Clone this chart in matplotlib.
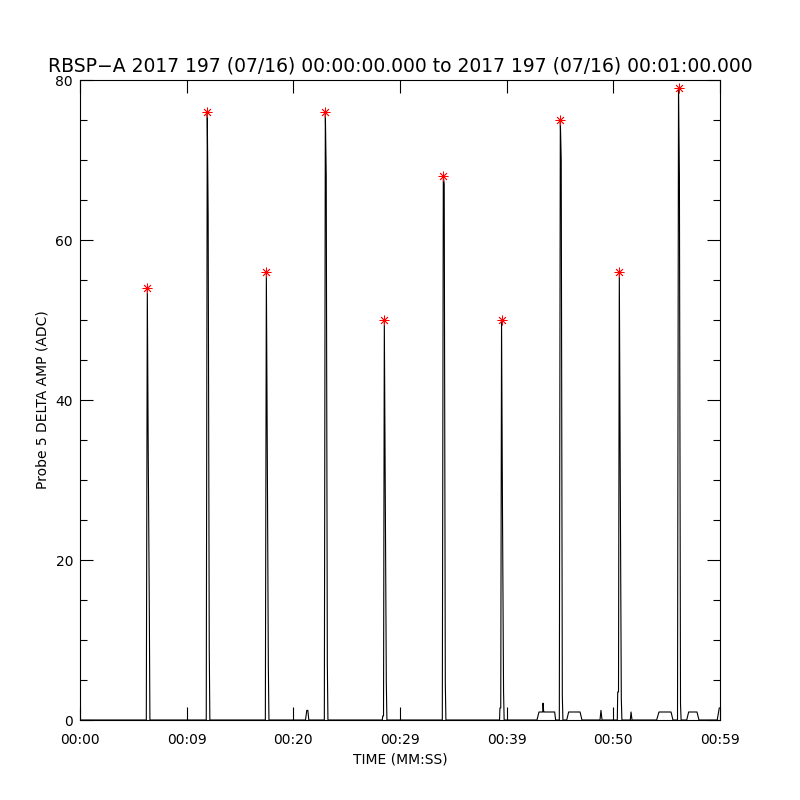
import numpy as np
import matplotlib
matplotlib.use("Agg")
import matplotlib.pyplot as plt
from matplotlib.ticker import MultipleLocator

# peaks of the probe 5 delta amplitude (seconds after 00:00:00)
spike_time = [6.31, 11.93, 17.47, 23.00, 28.53, 34.06, 39.52, 45.03, 50.56, 56.11]
spike_peak = [54, 76, 56, 76, 50, 68, 50, 75, 56, 79]
spike_mid = [34, 63, 34.5, 68, 29.5, 67, 27, 70, 31.5, 68]
spike_low = [14, 9, 6.6, 7, 4.6, 4.6, 3.6, 3, 2.7, 2]
spike_lead = [0, 0, 0, 0, 0.5, 0, 1.5, 0, 3.5, 0]

# small features near the baseline (time in s, value in ADC)
low_time = [21.14, 21.26, 21.36, 21.45,
            42.84, 43.03, 43.38, 43.41, 43.47, 43.50, 44.50, 44.59,
            45.63, 45.81, 46.88, 47.06,
            48.75, 48.84, 48.94,
            51.59, 51.66, 51.75,
            54.06, 54.28, 55.41, 55.59,
            56.88, 57.06, 57.84, 58.03,
            59.74, 59.93, 60.0]
low_val = [0, 1.2, 1.2, 0,
           0, 1, 1, 2.1, 1, 1, 1, 0,
           0, 1, 1, 0,
           0, 1.2, 0,
           0, 1, 0,
           0, 1, 1, 0,
           0, 1, 1, 0,
           0, 1.5, 1.5]

tick_pos = [0, 10, 20, 30, 40, 50, 60]
tick_lab = ["00:00", "00:09", "00:20", "00:29", "00:39", "00:50", "00:59"]

# build the trace
dt = 0.09375
pts = [(0.0, 0.0)]
for t, pk, md, lo, ld in zip(spike_time, spike_peak, spike_mid, spike_low, spike_lead):
    if ld > 0:
        pts.append((t - 2.0 * dt, 0))
        pts.append((t - 1.6 * dt, ld))
        pts.append((t - 0.8 * dt, ld))
    else:
        pts.append((t - dt, 0))
    pts += [(t, pk), (t + 0.9 * dt, md), (t + 2.0 * dt, lo), (t + 2.6 * dt, 0)]
pts += list(zip(low_time, low_val))
pts.sort()
tt = [p[0] for p in pts]
vv = [p[1] for p in pts]

fig = plt.figure(figsize=(8, 8), dpi=100)
ax = fig.add_axes([0.1, 0.1, 0.8, 0.8])
ax.plot(tt, vv, color="black", lw=0.8)
ax.plot(spike_time, spike_peak, linestyle="none", marker=(8, 2, 0),
        color="red", markersize=7, mew=0.6)

ax.set_xlim(0, 60)
ax.set_ylim(0, 80)
ax.set_xticks(tick_pos)
ax.set_xticklabels(tick_lab)
ax.yaxis.set_major_locator(MultipleLocator(20))
ax.yaxis.set_minor_locator(MultipleLocator(5))
ax.tick_params(axis="both", which="both", direction="in", top=True, right=True,
               labelsize=10, width=0.8)
ax.tick_params(axis="both", which="major", length=9.4)
ax.tick_params(axis="y", which="minor", length=4.7)
ax.tick_params(axis="x", which="major", pad=9)
ax.tick_params(axis="y", which="major", pad=5)
for s in ax.spines.values():
    s.set_linewidth(0.8)

ax.set_title("RBSP\u2212A 2017 197 (07/16) 00:00:00.000 to 2017 197 (07/16) 00:01:00.000",
             fontsize=13.5, pad=6)
ax.set_xlabel("TIME (MM:SS)", fontsize=10, labelpad=4)
ax.set_ylabel("Probe 5 DELTA AMP (ADC)", fontsize=10, labelpad=4)

fig.savefig("out.png", dpi=100)
